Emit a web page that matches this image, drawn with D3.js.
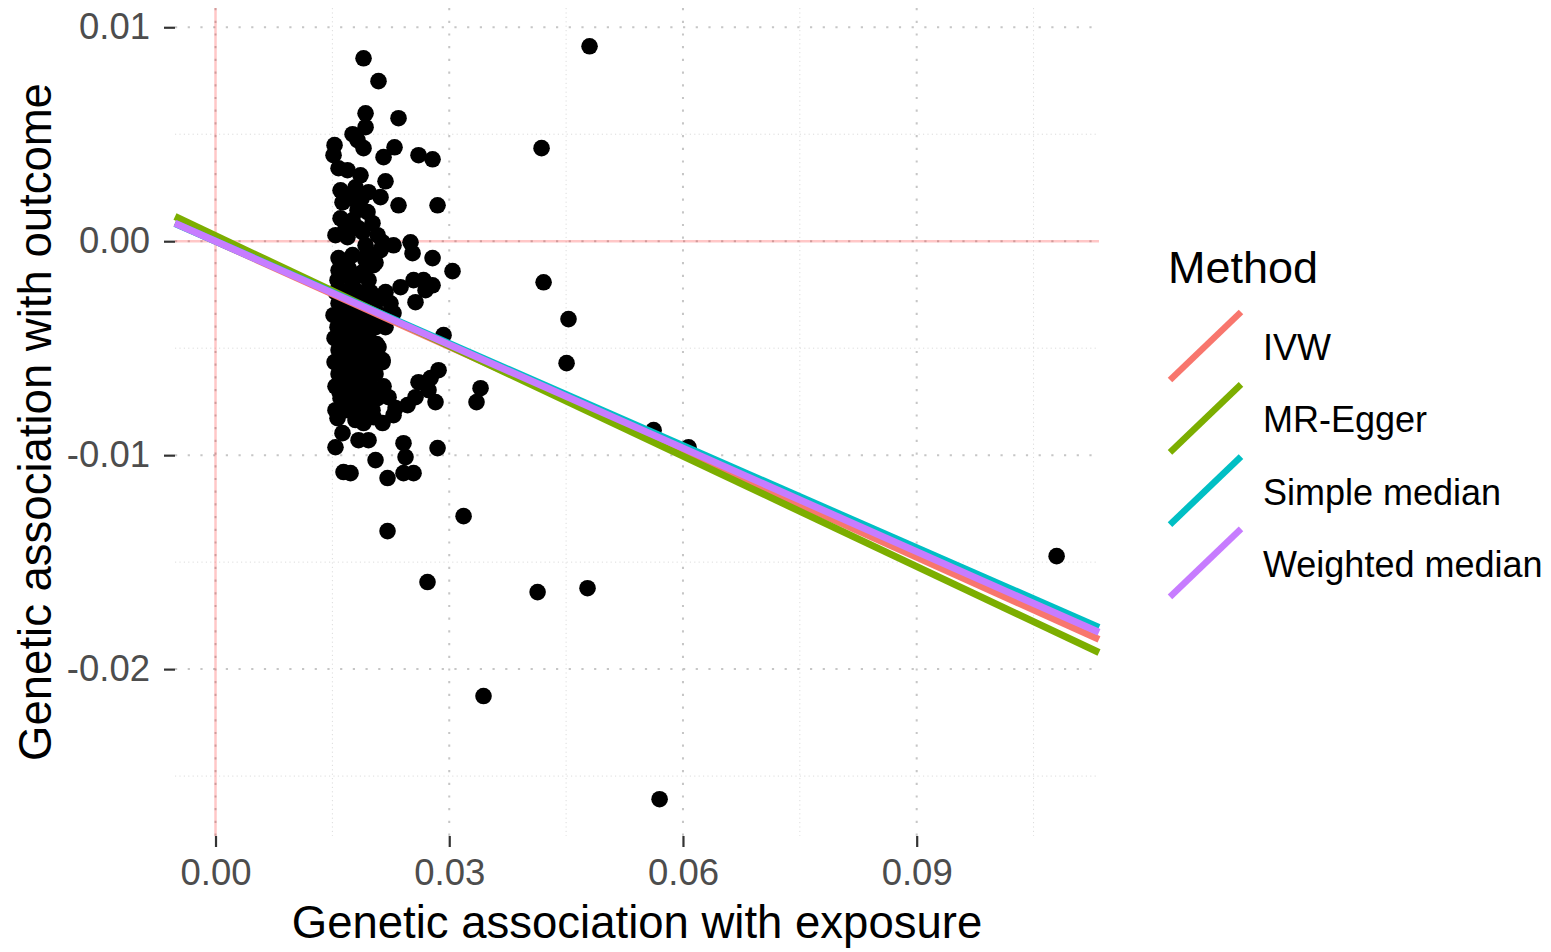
<!DOCTYPE html>
<html>
<head>
<meta charset="utf-8">
<script src="https://cdn.jsdelivr.net/npm/d3@7"></script>
<style>
  body { margin: 0; background: #fff; }
  svg text { font-family: "Liberation Sans", Arial, sans-serif; }
</style>
</head>
<body>
<svg id="chart" width="1551" height="952"></svg>
<script>
// SNP associations (exposure beta, outcome beta)
var exposureBeta = [
  0.01900, 0.02092, 0.01926, 0.02349, 0.01926, 0.01759, 0.01823, 0.01900, 0.01528, 0.01515,
  0.02298, 0.02157, 0.02606, 0.02786, 0.01579, 0.01694, 0.01861, 0.02182, 0.01605, 0.01797,
  0.01964, 0.02118, 0.02349, 0.02850, 0.01630, 0.01823, 0.01951, 0.01605, 0.01759, 0.02015,
  0.01540, 0.01694, 0.01887, 0.02080, 0.01926, 0.02144, 0.02285, 0.02503, 0.02529, 0.02786,
  0.03042, 0.01579, 0.01759, 0.01926, 0.01579, 0.01707, 0.01887, 0.02028, 0.01566, 0.01759,
  0.01964, 0.02375, 0.02542, 0.02670, 0.02786, 0.02696, 0.02567, 0.02927, 0.02157, 0.02285,
  0.01951, 0.02118,
  0.01540, 0.01669, 0.01836, 0.01990, 0.02182,
  0.01579, 0.01733, 0.01887, 0.02054, 0.02246,
  0.01515, 0.01669, 0.01823, 0.01964, 0.02144,
  0.01566, 0.01733, 0.01887, 0.02054, 0.02182,
  0.01528, 0.01669, 0.01823, 0.01964,
  0.01579, 0.01733, 0.01887, 0.02054,
  0.01528, 0.01669, 0.01823, 0.01990, 0.02144,
  0.01579, 0.01733, 0.01887, 0.02054,
  0.01540, 0.01694, 0.01836, 0.01990, 0.02157,
  0.01605, 0.01759, 0.01926, 0.02080,
  0.01540, 0.01694, 0.01861, 0.02015,
  0.01605, 0.01797, 0.01951,
  0.01592, 0.01759, 0.01913, 0.02080,
  0.01592, 0.01759, 0.01913, 0.02067,
  0.01592, 0.01759, 0.01913,
  0.01592, 0.01759, 0.01913, 0.02067,
  0.01669, 0.01836, 0.01669, 0.02054, 0.01669, 0.01836, 0.01733, 0.01874, 0.01900, 0.02144,
  0.02092, 0.02144, 0.02863, 0.02760, 0.02606, 0.02734, 0.02824, 0.02567, 0.02465, 0.02311,
  0.02221, 0.02028, 0.01566, 0.01797, 0.02285, 0.01630, 0.01836, 0.01964, 0.01540, 0.02413,
  0.02439, 0.02850, 0.02054, 0.01643, 0.01733, 0.02208, 0.02413, 0.02542, 0.02208,
  0.04801, 0.04185, 0.04211, 0.04531, 0.04506, 0.03402, 0.03350, 0.03184, 0.02721, 0.04134,
  0.04775, 0.03440, 0.05700, 0.10796, 0.05623, 0.06072
];
var outcomeBeta = [
  0.00855, 0.00748, 0.00598, 0.00575, 0.00533, 0.00500, 0.00472, 0.00435, 0.00449, 0.00402,
  0.00439, 0.00393, 0.00402, 0.00383, 0.00341, 0.00332, 0.00308, 0.00280, 0.00238, 0.00252,
  0.00229, 0.00206, 0.00168, 0.00168, 0.00182, 0.00145, 0.00136, 0.00107, 0.00098, 0.00084,
  0.00028, 0.00019, 0.00042, 0.00028, -0.00019, -0.00005, -0.00019, -0.00005, -0.00056, -0.00079,
  -0.00140, -0.00079, -0.00065, -0.00089, -0.00136, -0.00126, -0.00145, -0.00112, -0.00182, -0.00192,
  -0.00182, -0.00215, -0.00182, -0.00182, -0.00206, -0.00229, -0.00285, -0.00439, -0.00262, -0.00336,
  -0.00056, -0.00042,
  -0.00238, -0.00238, -0.00238, -0.00238, -0.00238,
  -0.00290, -0.00290, -0.00290, -0.00290, -0.00290,
  -0.00346, -0.00346, -0.00346, -0.00346, -0.00346,
  -0.00402, -0.00402, -0.00402, -0.00402, -0.00402,
  -0.00453, -0.00453, -0.00453, -0.00453,
  -0.00509, -0.00509, -0.00509, -0.00509,
  -0.00565, -0.00565, -0.00565, -0.00565, -0.00565,
  -0.00621, -0.00621, -0.00621, -0.00621,
  -0.00678, -0.00678, -0.00678, -0.00678, -0.00678,
  -0.00734, -0.00734, -0.00734, -0.00734,
  -0.00790, -0.00790, -0.00790, -0.00790,
  -0.00264, -0.00264, -0.00264,
  -0.00374, -0.00374, -0.00374, -0.00374,
  -0.00481, -0.00481, -0.00481, -0.00481,
  -0.00593, -0.00593, -0.00593,
  -0.00706, -0.00706, -0.00706, -0.00706,
  -0.00160, -0.00160, -0.00100, -0.00100, 0.00060, 0.00060, 0.00200, 0.00200, -0.00850, -0.00850,
  -0.00495, -0.00556, -0.00603, -0.00640, -0.00659, -0.00696, -0.00752, -0.00729, -0.00766, -0.00780,
  -0.00729, -0.00822, -0.00827, -0.00836, -0.00813, -0.00897, -0.00930, -0.00930, -0.00963, -0.00944,
  -0.01009, -0.00967, -0.01023, -0.01079, -0.01084, -0.01107, -0.01084, -0.01084, -0.01355,
  0.00911, 0.00435, -0.00192, -0.00364, -0.00570, -0.00687, -0.00752, -0.01285, -0.01593, -0.01640,
  -0.01622, -0.02126, -0.02608, -0.01472, -0.00883, -0.00963
];

// MR estimates (one line per method)
var methods = ['IVW', 'MR-Egger', 'Simple median', 'Weighted median'];
var slopes = [-0.1641, -0.1718, -0.1592, -0.1612];
var intercepts = [0, 0.00026, 0, 0];
var methodColors = ['#F8766D', '#7CAE00', '#00BFC4', '#C77CFF'];

var xTicks = [0, 0.03, 0.06, 0.09];
var xMinor = [0.015, 0.045, 0.075, 0.105];
var yTicks = [-0.02, -0.01, 0, 0.01];
var yMinor = [-0.025, -0.015, -0.005, 0.005];

var svg = d3.select('#chart');

var panel = {l: 175, r: 1099, t: 8, b: 836};

var x = d3.scaleLinear().domain([-0.0052, 0.1134]).range([panel.l, panel.r]);
var y = d3.scaleLinear().domain([-0.0278, 0.0109]).range([panel.b, panel.t]);

// grid lines
var grid = svg.append('g');
grid.selectAll('.vminor').data(xMinor).enter().append('line')
    .attr('x1', d => x(d)).attr('x2', d => x(d))
    .attr('y1', panel.t).attr('y2', panel.b)
    .attr('stroke', '#dcdcdc').attr('stroke-width', 1)
    .attr('stroke-dasharray', '1.2,3.2');
grid.selectAll('.hminor').data(yMinor).enter().append('line')
    .attr('y1', d => y(d)).attr('y2', d => y(d))
    .attr('x1', panel.l).attr('x2', panel.r)
    .attr('stroke', '#dcdcdc').attr('stroke-width', 1)
    .attr('stroke-dasharray', '1.2,3.2');
grid.selectAll('.vmajor').data(xTicks).enter().append('line')
    .attr('x1', d => x(d)).attr('x2', d => x(d))
    .attr('y1', panel.t).attr('y2', panel.b)
    .attr('stroke', '#c6c6c6').attr('stroke-width', 2)
    .attr('stroke-dasharray', '2.2,10.5');
grid.selectAll('.hmajor').data(yTicks).enter().append('line')
    .attr('y1', d => y(d)).attr('y2', d => y(d))
    .attr('x1', panel.l).attr('x2', panel.r)
    .attr('stroke', '#c6c6c6').attr('stroke-width', 2)
    .attr('stroke-dasharray', '2.2,10.5');

// reference lines at zero
svg.append('line')
    .attr('x1', x(0)).attr('x2', x(0)).attr('y1', panel.t).attr('y2', panel.b)
    .attr('stroke', 'red').attr('stroke-opacity', 0.22).attr('stroke-width', 2.5);
svg.append('line')
    .attr('y1', y(0)).attr('y2', y(0)).attr('x1', panel.l).attr('x2', panel.r)
    .attr('stroke', 'red').attr('stroke-opacity', 0.22).attr('stroke-width', 2.5);

// points
var points = exposureBeta.map(function(d, i) { return {bx: d, by: outcomeBeta[i]}; });
svg.append('g').selectAll('circle')
    .data(points).enter().append('circle')
    .attr('cx', d => x(d.bx))
    .attr('cy', d => y(d.by))
    .attr('r', 8.3)
    .attr('fill', 'black');

// method lines across the panel
var xDom = x.domain();
var lineG = svg.append('g');
methods.forEach(function(m, i) {
    lineG.append('line')
        .attr('x1', x(xDom[0])).attr('y1', y(intercepts[i] + slopes[i] * xDom[0]))
        .attr('x2', x(xDom[1])).attr('y2', y(intercepts[i] + slopes[i] * xDom[1]))
        .attr('stroke', methodColors[i])
        .attr('stroke-width', 7);
});

// axes
var fmt = d3.format('.2f');
var tickFmt = function(d) { return fmt(d).replace('\u2212', '-'); };

var yAxis = d3.axisLeft(y).tickValues(yTicks).tickSize(11).tickPadding(14)
    .tickFormat(tickFmt);
var yG = svg.append('g').attr('transform', 'translate(' + panel.l + ',0)').call(yAxis);

var xAxis = d3.axisBottom(x).tickValues(xTicks).tickSize(11).tickPadding(12)
    .tickFormat(tickFmt);
var xG = svg.append('g').attr('transform', 'translate(0,' + panel.b + ')').call(xAxis);

[xG, yG].forEach(function(g) {
    g.select('.domain').remove();
    g.selectAll('.tick line').attr('stroke', '#333').attr('stroke-width', 2.2);
    g.selectAll('.tick text').attr('fill', '#4d4d4d').style('font-size', '36.5px');
});

// axis titles
svg.append('text')
    .attr('x', (panel.l + panel.r) / 2).attr('y', 938)
    .attr('text-anchor', 'middle')
    .style('font-size', '45.5px')
    .text('Genetic association with exposure');

svg.append('text')
    .attr('transform', 'translate(51,' + (panel.t + panel.b) / 2 + ') rotate(-90)')
    .attr('text-anchor', 'middle')
    .style('font-size', '45.5px')
    .text('Genetic association with outcome');

// legend
var legend = svg.append('g').attr('transform', 'translate(1168,0)');
legend.append('text')
    .attr('x', 0).attr('y', 283)
    .style('font-size', '45px')
    .text('Method');

var keyH = 72.3;
methods.forEach(function(m, i) {
    var top = 310 + i * keyH;
    legend.append('line')
        .attr('x1', 2).attr('y1', top + 70)
        .attr('x2', 73).attr('y2', top + 2)
        .attr('stroke', methodColors[i])
        .attr('stroke-width', 6.5);
    legend.append('text')
        .attr('x', 95).attr('y', top + 37)
        .attr('dy', '0.36em')
        .style('font-size', '36px')
        .text(m);
});
</script>
</body>
</html>
